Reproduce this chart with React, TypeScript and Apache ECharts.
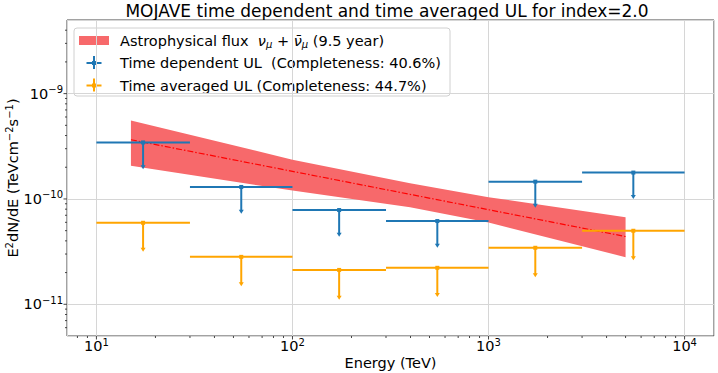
import React, { useEffect, useRef } from "react";
import * as echarts from "echarts";

// ---- data ----
const binLo = [10, 30, 100, 300, 1000, 3000];
const binHi = [30, 100, 300, 1000, 3000, 10000];
const binCenter = [17.3, 54.8, 173, 548, 1732, 5477];
const tdUL = [3.44e-10, 1.3e-10, 7.85e-11, 6.17e-11, 1.46e-10, 1.78e-10];
const tdArrow = [1.96e-10, 7.41e-11, 4.47e-11, 3.51e-11, 8.45e-11, 1.02e-10];
const taUL = [5.94e-11, 2.82e-11, 2.12e-11, 2.22e-11, 3.44e-11, 4.99e-11];
const taArrow = [3.22e-11, 1.52e-11, 1.13e-11, 1.2e-11, 1.85e-11, 2.68e-11];
const bandE = [15, 100, 398, 1000, 5000];
const bandUpper = [5.56e-10, 2.36e-10, 1.41e-10, 1.04e-10, 6.71e-11];
const bandLower = [2.07e-10, 1.2e-10, 8.36e-11, 5.97e-11, 2.8e-11];
const fluxE = [15, 5000];
const fluxBest = [3.65e-10, 4.4e-11];
const xMajorTicks = [10, 100, 1000, 10000];
const yMajorTicks = [1e-11, 1e-10, 1e-9];
const xMin = Math.pow(10, 0.85);
const xMax = Math.pow(10, 4.15);
const yMin = 5e-12;
const yMax = 5e-9;

const FONT = "DejaVu Sans";
const BLUE = "#1f77b4";
const ORANGE = "#ffa500";
const BAND = "#f7696b";

function minorTicks(lo: number, hi: number): number[] {
  const out: number[] = [];
  for (let d = Math.floor(Math.log10(lo)); d <= Math.ceil(Math.log10(hi)); d++) {
    for (let m = 2; m <= 9; m++) {
      const v = m * Math.pow(10, d);
      if (v > lo * 1.001 && v < hi * 0.999) out.push(v);
    }
  }
  return out;
}

function powLabel(v: number): string {
  const e = Math.log10(v);
  const r = Math.round(e);
  if (Math.abs(e - r) > 0.02) return "";
  const s = r < 0 ? "\u2212" + String(-r) : String(r);
  return `{b|10}{s|${s}}`;
}

const labelRich = {
  b: { fontSize: 14.5, fontFamily: FONT, color: "#000", lineHeight: 18 },
  s: { fontSize: 10, fontFamily: FONT, color: "#000", lineHeight: 10, verticalAlign: "top" },
};

function errorBarSeries(name: string, ul: number[], arrow: number[], color: string) {
  const data = binCenter.map((c, i) => [c, ul[i], binLo[i], binHi[i], arrow[i]]);
  return {
    type: "custom",
    name,
    z: 5,
    clip: false,
    encode: { x: 0, y: 1 },
    data,
    renderItem: (_p: any, api: any) => {
      const c = api.coord([api.value(0), api.value(1)]);
      const l = api.coord([api.value(2), api.value(1)]);
      const h = api.coord([api.value(3), api.value(1)]);
      const a = api.coord([api.value(0), api.value(4)]);
      return {
        type: "group",
        children: [
          { type: "line", shape: { x1: l[0], y1: c[1], x2: h[0], y2: c[1] }, style: { stroke: color, lineWidth: 2 } },
          { type: "line", shape: { x1: c[0], y1: c[1], x2: c[0], y2: a[1] - 2 }, style: { stroke: color, lineWidth: 2 } },
          {
            type: "polygon",
            shape: { points: [[a[0] - 2.5, a[1] - 3], [a[0] + 2.5, a[1] - 3], [a[0], a[1] + 1]] },
            style: { fill: color },
          },
          { type: "rect", shape: { x: c[0] - 2, y: c[1] - 2, width: 4, height: 4 }, style: { fill: color } },
        ],
      };
    },
  };
}

export default function App() {
  const ref = useRef<HTMLDivElement>(null);
  useEffect(() => {
    if (!ref.current) return;
    const chart = echarts.init(ref.current, undefined, { renderer: "svg" });
    const xMinor = minorTicks(xMin, xMax);
    const yMinor = minorTicks(yMin, yMax);

    const legendX = 74;
    const legendY = 28;
    const rows = [40.5, 63, 85.5];
    const crossMarker = (cy: number, color: string) => [
      { type: "line", shape: { x1: 86.5, y1: cy, x2: 101.5, y2: cy }, style: { stroke: color, lineWidth: 2 } },
      { type: "line", shape: { x1: 94, y1: cy - 7, x2: 94, y2: cy + 6 }, style: { stroke: color, lineWidth: 2 } },
      { type: "rect", shape: { x: 92, y: cy - 2, width: 4, height: 4 }, style: { fill: color } },
    ];
    const legendTextStyle = { fontSize: 14.5, fontFamily: FONT, fill: "#000" };

    const option: any = {
      animation: false,
      backgroundColor: "#fff",
      grid: { left: 67, right: 4, top: 20, bottom: 37, show: true, borderColor: "#444", borderWidth: 1, outerBoundsMode: "none" },
      xAxis: {
        type: "log",
        logBase: 10,
        min: xMin,
        max: xMax,
        name: "Energy (TeV)",
        nameLocation: "middle",
        nameGap: 19,
        nameMoveOverlap: false,
        nameTextStyle: { fontSize: 14.5, fontFamily: FONT, color: "#000" },
        axisLine: { show: false },
        axisTick: { show: false },
        splitLine: { show: true, lineStyle: { color: "#d6d6d6", width: 1 } },
        axisLabel: { formatter: powLabel, rich: labelRich, margin: 1, showMinLabel: false, showMaxLabel: false },
      },
      yAxis: {
        type: "log",
        logBase: 10,
        min: yMin,
        max: yMax,
        name: "{b|E}{s|2}{b|dN/dE (TeVcm}{s|\u22122}{b|s}{s|\u22121}{b|)}",
        nameLocation: "middle",
        nameGap: 45,
        nameRotate: 90,
        nameMoveOverlap: false,
        nameTextStyle: { rich: labelRich },
        axisLine: { show: false },
        axisTick: { show: false },
        splitLine: { show: true, lineStyle: { color: "#d6d6d6", width: 1 } },
        axisLabel: { formatter: powLabel, rich: labelRich, margin: 4, showMinLabel: false, showMaxLabel: false },
      },
      series: [
        {
          type: "custom",
          z: 1,
          clip: true,
          encode: { x: 0, y: 1 },
          data: [[bandE[0], bandUpper[0]]],
          renderItem: (_p: any, api: any) => {
            const pts: number[][] = [];
            bandE.forEach((e, i) => pts.push(api.coord([e, bandUpper[i]])));
            for (let i = bandE.length - 1; i >= 0; i--) pts.push(api.coord([bandE[i], bandLower[i]]));
            return { type: "polygon", shape: { points: pts }, style: { fill: BAND } };
          },
        },
        {
          type: "line",
          z: 2,
          data: fluxE.map((e, i) => [e, fluxBest[i]]),
          showSymbol: false,
          lineStyle: { color: "#ff0000", width: 1.2, type: [6, 2, 1.5, 2] },
        },
        errorBarSeries("Time dependent UL", tdUL, tdArrow, BLUE),
        errorBarSeries("Time averaged UL", taUL, taArrow, ORANGE),
        {
          type: "custom",
          z: 6,
          clip: false,
          encode: { x: 0, y: 1 },
          data: [[xMin, yMin]],
          renderItem: (_p: any, api: any) => {
            const children: any[] = [];
            const corner = api.coord([xMin, yMin]);
            const by = corner[1];
            const lx = corner[0];
            const st = { stroke: "#444", lineWidth: 1 };
            xMajorTicks.forEach((t) => {
              const p = api.coord([t, yMin]);
              children.push({ type: "line", shape: { x1: p[0], y1: by, x2: p[0], y2: by + 3.5 }, style: st });
            });
            xMinor.forEach((t) => {
              const p = api.coord([t, yMin]);
              children.push({ type: "line", shape: { x1: p[0], y1: by, x2: p[0], y2: by + 2 }, style: st });
            });
            yMajorTicks.forEach((t) => {
              const p = api.coord([xMin, t]);
              children.push({ type: "line", shape: { x1: lx, y1: p[1], x2: lx - 3.5, y2: p[1] }, style: st });
            });
            yMinor.forEach((t) => {
              const p = api.coord([xMin, t]);
              children.push({ type: "line", shape: { x1: lx, y1: p[1], x2: lx - 2, y2: p[1] }, style: st });
            });
            return { type: "group", children };
          },
        },
      ],
      graphic: [
        {
          type: "text",
          x: 387,
          y: 11,
          style: {
            text: "MOJAVE time dependent and time averaged UL for index=2.0",
            fontSize: 17,
            fontFamily: FONT,
            fill: "#000",
            align: "center",
            verticalAlign: "middle",
          },
        },
        {
          type: "group",
          z: 100,
          children: [
            {
              type: "rect",
              shape: { x: legendX, y: legendY, width: 376, height: 68, r: 3 },
              style: { fill: "rgba(255,255,255,0.85)", stroke: "#d0d0d0", lineWidth: 1 },
            },
            { type: "rect", shape: { x: 79, y: 36, width: 30, height: 9 }, style: { fill: BAND } },
            ...crossMarker(rows[1], BLUE),
            ...crossMarker(rows[2], ORANGE),
            {
              type: "text",
              x: 120,
              y: rows[0],
              style: {
                text: "{t|Astrophysical flux  }{i|\u03bd}{s|\u03bc}{t| + }{i|\u03bd\u0304}{s|\u03bc}{t| (9.5 year)}",
                verticalAlign: "middle",
                rich: {
                  t: { fontSize: 14.5, fontFamily: FONT, fill: "#000", lineHeight: 18 },
                  i: { fontSize: 14.5, fontFamily: FONT, fontStyle: "italic", fill: "#000", lineHeight: 18 },
                  s: { fontSize: 10, fontFamily: FONT, fontStyle: "italic", fill: "#000", lineHeight: 12, verticalAlign: "bottom" },
                },
              },
            },
            {
              type: "text",
              x: 120,
              y: rows[1],
              style: { text: "Time dependent UL  (Completeness: 40.6%)", verticalAlign: "middle", ...legendTextStyle },
            },
            {
              type: "text",
              x: 120,
              y: rows[2],
              style: { text: "Time averaged UL (Completeness: 44.7%)", verticalAlign: "middle", ...legendTextStyle },
            },
          ],
        },
      ],
    };
    chart.setOption(option);
    return () => chart.dispose();
  }, []);
  return <div ref={ref} style={{ position: "fixed", left: 0, top: 0, width: 718, height: 373 }} />;
}
